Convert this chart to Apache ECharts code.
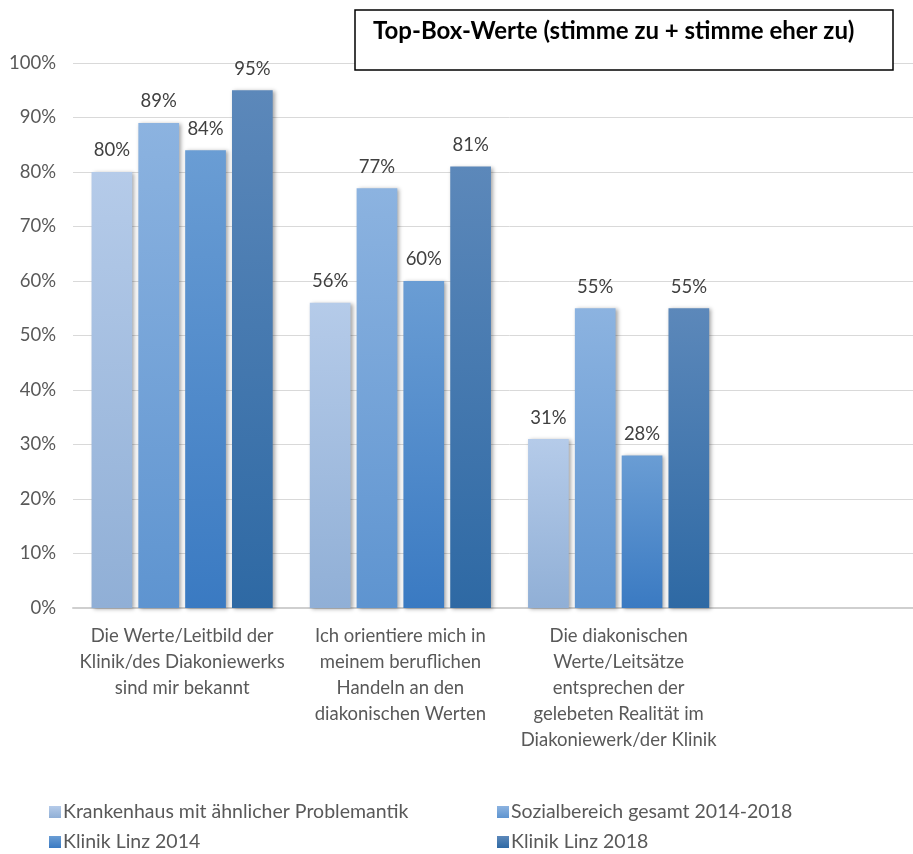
<!DOCTYPE html>
<html>
<head>
<meta charset="utf-8">
<script src="https://cdn.jsdelivr.net/npm/echarts@6/dist/echarts.min.js"></script>
<style>
html,body{margin:0;padding:0;background:#fff;overflow:hidden;width:913px;height:854px;}
#chart{width:946px;height:854px;}
</style>
</head>
<body>
<div id="chart"></div>
<script>
var categories = [
  'Die Werte/Leitbild der\nKlinik/des Diakoniewerks\nsind mir bekannt',
  'Ich orientiere mich in\nmeinem beruflichen\nHandeln an den\ndiakonischen Werten',
  'Die diakonischen\nWerte/Leitsätze\nentsprechen der\ngelebeten Realität im\nDiakoniewerk/der Klinik',
  ''
];
var seriesNames = ['Krankenhaus mit ähnlicher Problemantik', 'Sozialbereich gesamt 2014-2018', 'Klinik Linz 2014', 'Klinik Linz 2018'];
var krankenhaus = [80, 56, 31];
var sozialbereich = [89, 77, 55];
var linz2014 = [84, 60, 28];
var linz2018 = [95, 81, 55];
var yTicks = [0, 10, 20, 30, 40, 50, 60, 70, 80, 90, 100];
var titleText = 'Top-Box-Werte (stimme zu + stimme eher zu)';

var gradients = [
  ['#b5cbe9', '#90afd6'],
  ['#8cb3e0', '#5e94d0'],
  ['#6a9dd4', '#3a7ac2'],
  ['#5c88ba', '#2e69a4']
];
var FONT = 'Lato, "Open Sans", sans-serif';

function grad(c) {
  return new echarts.graphic.LinearGradient(0, 0, 0, 1, [
    {offset: 0, color: c[0]}, {offset: 1, color: c[1]}
  ]);
}

var allData = [krankenhaus, sozialbereich, linz2014, linz2018];
var series = allData.map(function (d, i) {
  return {
    name: seriesNames[i],
    type: 'bar',
    data: d,
    barGap: '15%',
    barCategoryGap: '17%',
    itemStyle: {
      color: grad(gradients[i]),
      shadowBlur: 4,
      shadowColor: 'rgba(0,0,0,0.35)',
      shadowOffsetX: 2,
      shadowOffsetY: 1
    },
    label: {
      show: true,
      position: 'top',
      distance: 12,
      formatter: '{c}%',
      color: '#404040',
      fontSize: 18.5,
      fontFamily: FONT
    }
  };
});

var legendPos = [[44, 797], [492, 797], [44, 827], [492, 827]];
var legends = seriesNames.map(function (n, i) {
  return {
    data: [n],
    left: legendPos[i][0], top: legendPos[i][1],
    itemWidth: 12, itemHeight: 12, itemGap: 0,
    icon: 'rect',
    textStyle: {color: '#595959', fontSize: 19.5, fontFamily: FONT, padding: [0, 0, 0, -3]}
  };
});

var chart = echarts.init(document.getElementById('chart'));
chart.setOption({
  backgroundColor: '#fff',
  animation: false,
  grid: {left: 73, right: 0, top: 63, bottom: 246, containLabel: false},
  legend: legends,
  xAxis: {
    type: 'category',
    data: categories,
    axisTick: {show: false},
    axisLine: {lineStyle: {color: '#cfcfcf', width: 2}},
    axisLabel: {
      interval: 0,
      margin: 15,
      color: '#595959',
      fontSize: 18.5,
      lineHeight: 26,
      fontFamily: FONT,
      align: 'center'
    }
  },
  yAxis: {
    type: 'value',
    min: yTicks[0],
    max: yTicks[yTicks.length - 1],
    interval: yTicks[1] - yTicks[0],
    axisLine: {show: false},
    axisTick: {show: false},
    splitLine: {lineStyle: {color: '#d9d9d9', width: 1}},
    axisLabel: {
      formatter: '{value}%',
      margin: 17,
      color: '#595959',
      fontSize: 18.5,
      fontFamily: FONT
    }
  },
  series: series,
  graphic: [
    {
      type: 'rect',
      z: 100,
      shape: {x: 355, y: 10, width: 538, height: 60},
      style: {fill: '#fff', stroke: '#000', lineWidth: 1.5}
    },
    {
      type: 'text',
      z: 101,
      left: 373,
      top: 19,
      style: {
        text: titleText,
        fill: '#000',
        font: 'bold 24px ' + FONT
      }
    }
  ]
});
</script>
</body>
</html>
